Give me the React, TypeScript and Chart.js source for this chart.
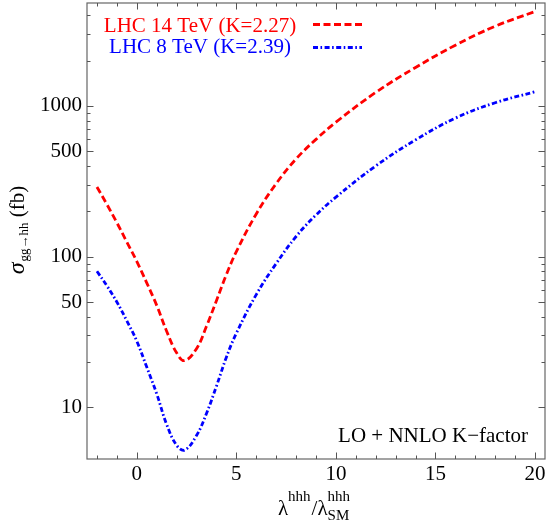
import React, { useEffect, useRef } from "react";
import { Chart, registerables } from "chart.js";

Chart.register(...registerables);

// lambda^hhh / lambda^hhh_SM
const lambdaValues = [-2, -1.5, -1, -0.5, 0, 0.5, 1, 1.5, 2, 2.4, 3, 3.5, 4, 4.5, 5, 6, 7, 8, 9, 10, 12, 14, 16, 18, 20];
// sigma(gg -> hh) in fb
const lhc14 = [290, 222, 168, 125, 93, 67, 47.5, 32, 23, 20.4, 24.5, 34.5, 51, 76, 108, 192, 305, 445, 600, 780, 1230, 1800, 2530, 3380, 4230];
const lhc8 = [80, 64, 50, 37.5, 27.5, 18.5, 12.3, 7.7, 5.6, 5.2, 6.5, 9.1, 13.8, 21.5, 31, 56, 90, 136, 189, 248, 400, 595, 830, 1050, 1242];

const xMajorTicks = [0, 5, 10, 15, 20];
const xMinorTicks = [-2, -1, 0, 1, 2, 3, 4, 5, 6, 7, 8, 9, 10, 11, 12, 13, 14, 15, 16, 17, 18, 19, 20];
const yMajorTicks = [10, 50, 100, 500, 1000];
const yMinorTicks = [20, 30, 40, 60, 70, 80, 90, 200, 300, 400, 600, 700, 800, 900, 2000, 3000, 4000];

const seriesLabels = ["LHC 14 TeV (K=2.27)", "LHC 8 TeV (K=2.39)"];
const annotationText = "LO + NNLO K\u2212factor";

const X_MIN = -2.5;
const X_MAX = 20.5;
const Y_MIN = 4.54;
const Y_MAX = 4820;

const SERIF = "'Liberation Serif', 'Times New Roman', serif";
const RED = "#ff0000";
const BLUE = "#0000ff";
const RED_DASH = [7, 3.5];
const BLUE_DASH = [5, 2.5, 1.6, 2.5];

const decorPlugin = {
  id: "decor",
  afterDraw(chart: any) {
    const { ctx, chartArea: a, scales } = chart;
    const xs = scales.x;
    const ys = scales.y;
    ctx.save();

    // frame
    ctx.strokeStyle = "#666";
    ctx.lineWidth = 1.2;
    ctx.setLineDash([]);
    ctx.strokeRect(a.left, a.top, a.right - a.left, a.bottom - a.top);

    // ticks pointing inward on all four sides
    ctx.lineWidth = 1;
    ctx.strokeStyle = "#555";
    ctx.beginPath();
    for (const v of xMinorTicks) {
      const px = Math.round(xs.getPixelForValue(v)) + 0.5;
      const len = xMajorTicks.includes(v) ? 6.5 : 3.5;
      ctx.moveTo(px, a.bottom);
      ctx.lineTo(px, a.bottom - len);
      ctx.moveTo(px, a.top);
      ctx.lineTo(px, a.top + len);
    }
    const allY = [...yMajorTicks.map((v) => [v, 6.5]), ...yMinorTicks.map((v) => [v, 3.5])];
    for (const [v, len] of allY) {
      const py = Math.round(ys.getPixelForValue(v)) + 0.5;
      if (py < a.top || py > a.bottom) continue;
      ctx.moveTo(a.left, py);
      ctx.lineTo(a.left + len, py);
      ctx.moveTo(a.right, py);
      ctx.lineTo(a.right - len, py);
    }
    ctx.stroke();

    // legend
    ctx.font = `21px ${SERIF}`;
    ctx.textAlign = "center";
    ctx.textBaseline = "alphabetic";
    ctx.fillStyle = RED;
    ctx.fillText(seriesLabels[0], 200, 31.5);
    ctx.fillStyle = BLUE;
    ctx.fillText(seriesLabels[1], 200, 53);

    ctx.lineWidth = 2.8;
    ctx.lineCap = "butt";
    ctx.strokeStyle = RED;
    ctx.setLineDash(RED_DASH);
    ctx.beginPath();
    ctx.moveTo(313, 24.5);
    ctx.lineTo(362, 24.5);
    ctx.stroke();
    ctx.strokeStyle = BLUE;
    ctx.setLineDash(BLUE_DASH);
    ctx.beginPath();
    ctx.moveTo(313, 47.5);
    ctx.lineTo(362, 47.5);
    ctx.stroke();
    ctx.setLineDash([]);

    // annotation
    ctx.fillStyle = "#000";
    ctx.textAlign = "right";
    ctx.font = `21px ${SERIF}`;
    ctx.fillText(annotationText, 528, 441.5);

    // x-axis title: λ^hhh / λ^hhh_SM
    ctx.textAlign = "left";
    const main = `21px ${SERIF}`;
    const small = `15px ${SERIF}`;
    ctx.font = main;
    const wL = ctx.measureText("\u03bb").width;
    const wS = ctx.measureText("/").width;
    ctx.font = small;
    const wH = ctx.measureText("hhh").width;
    const wSM = ctx.measureText("SM").width;
    const total = wL + wH + 1 + wS + wL + Math.max(wH, wSM);
    let cx = 314 - total / 2;
    const base = 515;
    ctx.font = main;
    ctx.fillText("\u03bb", cx, base);
    cx += wL;
    ctx.font = small;
    ctx.fillText("hhh", cx, base - 14);
    cx += wH + 1;
    ctx.font = main;
    ctx.fillText("/", cx, base);
    cx += wS;
    ctx.fillText("\u03bb", cx, base);
    cx += wL;
    ctx.font = small;
    ctx.fillText("hhh", cx, base - 14);
    ctx.fillText("SM", cx, base + 5);

    // y-axis title: σ_{gg→hh} (fb), rotated
    ctx.save();
    ctx.translate(24, 230);
    ctx.rotate(-Math.PI / 2);
    const sig = `italic 24px ${SERIF}`;
    const sub = `13px ${SERIF}`;
    ctx.font = sig;
    const wSig = ctx.measureText("\u03c3").width;
    ctx.font = sub;
    const wSub = ctx.measureText("gg\u2192hh").width;
    ctx.font = main;
    const wFb = ctx.measureText(" (fb)").width;
    const tw = wSig + 1 + wSub + wFb;
    let tx = -tw / 2;
    ctx.font = sig;
    ctx.fillText("\u03c3", tx, 0);
    tx += wSig + 1;
    ctx.font = sub;
    ctx.fillText("gg\u2192hh", tx, 4);
    tx += wSub;
    ctx.font = main;
    ctx.fillText(" (fb)", tx, 0);
    ctx.restore();

    ctx.restore();
  },
};

export default function App() {
  const canvasRef = useRef<HTMLCanvasElement | null>(null);

  useEffect(() => {
    document.body.style.margin = "0";
    const canvas = canvasRef.current;
    if (!canvas) return;
    const chart = new Chart(canvas, {
      type: "line",
      data: {
        datasets: [
          {
            label: seriesLabels[0],
            data: lambdaValues.map((x, i) => ({ x, y: lhc14[i] })),
            borderColor: RED,
            borderWidth: 2.8,
            borderDash: RED_DASH,
            borderCapStyle: "butt",
            pointRadius: 0,
            fill: false,
            tension: 0.4,
          },
          {
            label: seriesLabels[1],
            data: lambdaValues.map((x, i) => ({ x, y: lhc8[i] })),
            borderColor: BLUE,
            borderWidth: 2.8,
            borderDash: BLUE_DASH,
            borderCapStyle: "butt",
            pointRadius: 0,
            fill: false,
            tension: 0.4,
          },
        ],
      },
      options: {
        responsive: false,
        animation: false,
        layout: { padding: { top: 3, right: 2, left: 0, bottom: 0 } },
        plugins: {
          legend: { display: false },
          tooltip: { enabled: false },
        },
        scales: {
          x: {
            type: "linear",
            min: X_MIN,
            max: X_MAX,
            grid: { display: false, drawTicks: false },
            border: { display: false },
            afterBuildTicks: (s: any) => {
              s.ticks = xMajorTicks.map((v) => ({ value: v }));
            },
            afterFit: (s: any) => {
              s.height = 66;
              s.paddingLeft = 0;
              s.paddingRight = 0;
            },
            ticks: {
              color: "#000",
              padding: 3,
              maxRotation: 0,
              autoSkip: false,
              font: { family: SERIF, size: 21 },
              callback: (v: any) => String(v),
            },
          },
          y: {
            type: "logarithmic",
            min: Y_MIN,
            max: Y_MAX,
            grid: { display: false, drawTicks: false },
            border: { display: false },
            afterBuildTicks: (s: any) => {
              s.ticks = yMajorTicks.map((v) => ({ value: v }));
            },
            afterFit: (s: any) => {
              s.width = 87;
              s.paddingTop = 0;
              s.paddingBottom = 0;
            },
            ticks: {
              color: "#000",
              padding: 5,
              autoSkip: false,
              font: { family: SERIF, size: 21 },
              callback: (v: any) => String(v),
            },
          },
        },
      } as any,
      plugins: [decorPlugin],
    });
    return () => chart.destroy();
  }, []);

  return (
    <div style={{ width: 547, height: 525 }}>
      <canvas ref={canvasRef} width={547} height={525} style={{ display: "block" }} />
    </div>
  );
}
